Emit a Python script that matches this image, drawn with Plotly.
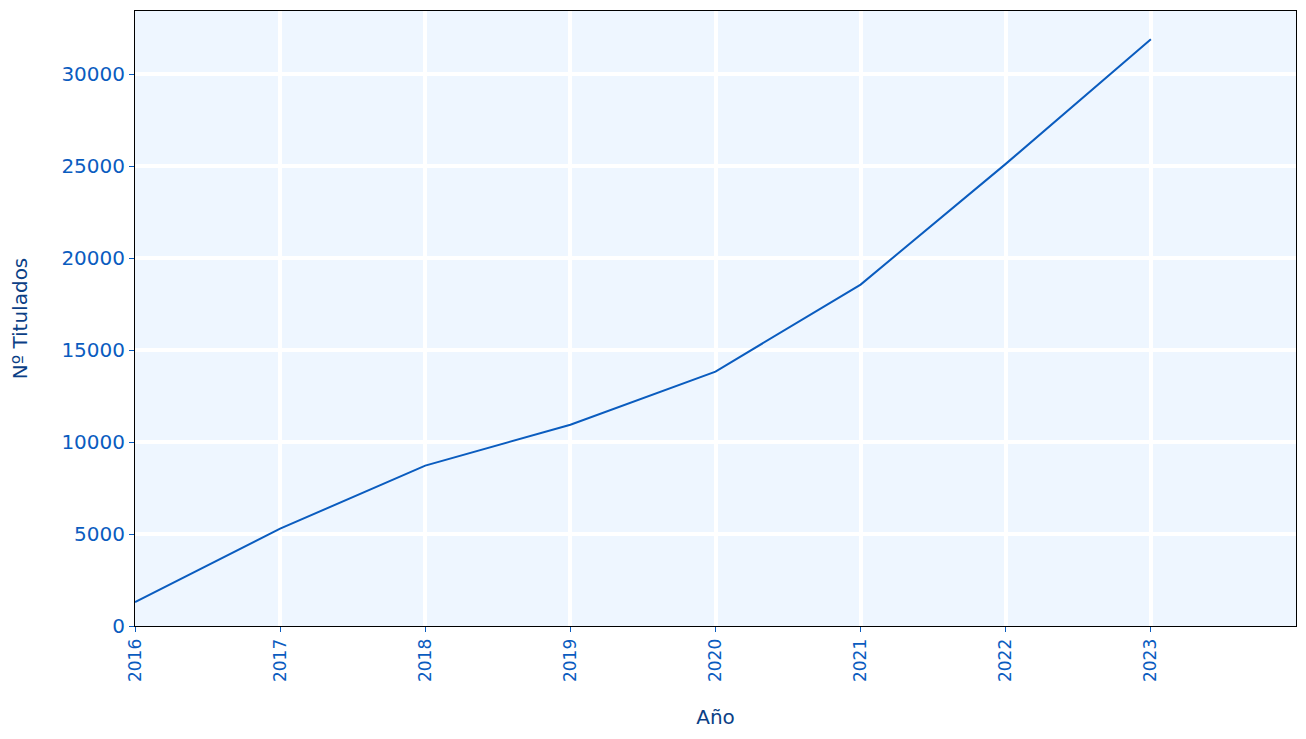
import plotly.graph_objects as go

years = [2016, 2017, 2018, 2019, 2020, 2021, 2022, 2023]
titulados = [1300, 5290, 8720, 10940, 13830, 18560, 25120, 31900]
x_ticks = [2016, 2017, 2018, 2019, 2020, 2021, 2022, 2023]
y_ticks = [0, 5000, 10000, 15000, 20000, 25000, 30000]

tick_color = "#0a5cbf"
title_color = "#0b3f86"
font = "DejaVu Sans"

fig = go.Figure()
fig.add_trace(go.Scatter(
    x=years, y=titulados, mode="lines",
    line=dict(color="#0a5cbf", width=2),
    showlegend=False,
))

fig.update_layout(
    width=1290, height=723,
    margin=dict(l=127, r=2, t=3, b=105),
    paper_bgcolor="white",
    plot_bgcolor="#eef6ff",
    font=dict(family=font, color=tick_color),
)

fig.update_xaxes(
    range=[2016, 2024],
    tickmode="array", tickvals=x_ticks, ticktext=[str(v) for v in x_ticks],
    tickangle=-90,
    tickfont=dict(size=17, color=tick_color, family=font),
    ticks="outside", ticklen=5, tickcolor=tick_color, tickwidth=1,
    showgrid=True, gridcolor="white", gridwidth=3.5,
    showline=True, linecolor="black", linewidth=1, mirror=True,
    zeroline=False,
    title=dict(text="Año", font=dict(size=20, color=title_color, family=font), standoff=28),
)
fig.update_yaxes(
    range=[0, 33430],
    tickmode="array", tickvals=y_ticks, ticktext=[str(v) for v in y_ticks],
    tickfont=dict(size=20, color=tick_color, family=font),
    ticks="outside", ticklen=5, tickcolor=tick_color, tickwidth=1,
    showgrid=True, gridcolor="white", gridwidth=3.5,
    showline=True, linecolor="black", linewidth=1, mirror=True,
    zeroline=False,
    title=dict(text="Nº Titulados", font=dict(size=20, color=title_color, family=font), standoff=30),
)

fig.write_html("out.html")
